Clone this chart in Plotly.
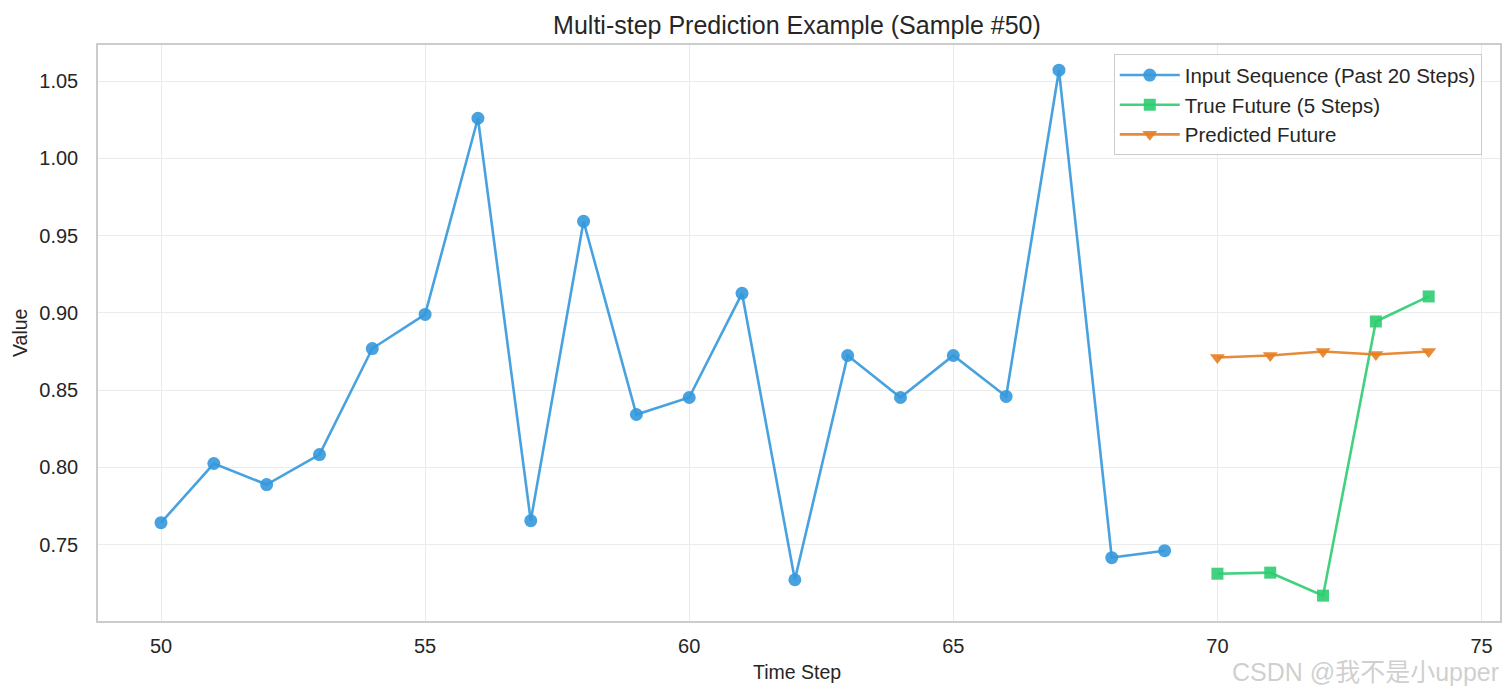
import plotly.graph_objects as go

input_x = list(range(50, 70))
input_y = [0.7642, 0.8025, 0.7889, 0.8083, 0.8769, 0.8990, 1.0259, 0.7655, 0.9592, 0.8342,
           0.8452, 0.9126, 0.7273, 0.8724, 0.8452, 0.8724, 0.8459, 1.0570, 0.7416, 0.7461]
future_x = list(range(70, 75))
true_y = [0.7312, 0.7319, 0.7170, 0.8944, 0.9106]
pred_y = [0.8711, 0.8724, 0.8750, 0.8730, 0.8750]

x_ticks = [50, 55, 60, 65, 70, 75]
y_ticks = [0.75, 0.80, 0.85, 0.90, 0.95, 1.00, 1.05]

font_family = "Liberation Sans, Arial, sans-serif"
text_color = "#262626"

fig = go.Figure()
fig.add_trace(go.Scatter(x=input_x, y=input_y, mode="lines+markers",
                         name="Input Sequence (Past 20 Steps)",
                         line=dict(color="rgba(52,152,219,0.9)", width=2.6),
                         marker=dict(symbol="circle", size=13, color="rgba(52,152,219,0.9)")))
fig.add_trace(go.Scatter(x=future_x, y=true_y, mode="lines+markers",
                         name="True Future (5 Steps)",
                         line=dict(color="rgba(46,204,113,0.9)", width=2.6),
                         marker=dict(symbol="square", size=12, color="rgba(46,204,113,0.9)")))
fig.add_trace(go.Scatter(x=future_x, y=pred_y, mode="lines+markers",
                         name="Predicted Future",
                         line=dict(color="rgba(230,126,34,0.9)", width=2.6),
                         marker=dict(symbol="triangle-down", size=13, color="rgba(230,126,34,0.9)")))

fig.update_layout(
    width=1508, height=698,
    paper_bgcolor="white", plot_bgcolor="white",
    margin=dict(l=98, r=8, t=44.5, b=76.5, autoexpand=False),
    font=dict(family=font_family, color=text_color, size=20),
    title=dict(text="Multi-step Prediction Example (Sample #50)", x=0.5285, xanchor="center",
               y=0.9642, yanchor="middle", font=dict(size=25, color=text_color)),
    legend=dict(x=0.987, xanchor="right", y=0.984, yanchor="top",
                bgcolor="rgba(255,255,255,0.8)", bordercolor="#cccccc", borderwidth=1,
                font=dict(size=20.5, color=text_color), itemwidth=60, tracegroupgap=0),
    showlegend=True,
)
fig.update_xaxes(range=[48.807, 75.35], tickvals=x_ticks, ticktext=[str(v) for v in x_ticks],
                 showgrid=True, gridcolor="#ebebeb", gridwidth=1.2, zeroline=False,
                 showline=True, linecolor="#cccccc", linewidth=1.5, mirror=True,
                 ticks="", automargin=False, ticklabelstandoff=6,
                 tickfont=dict(size=20, color=text_color))
fig.update_yaxes(range=[0.7006, 1.0733], tickvals=y_ticks, ticktext=[f"{v:.2f}" for v in y_ticks],
                 showgrid=True, gridcolor="#ebebeb", gridwidth=1.2, zeroline=False,
                 showline=True, linecolor="#cccccc", linewidth=1.5, mirror=True,
                 ticks="", automargin=False, ticklabelstandoff=14,
                 tickfont=dict(size=20, color=text_color))

# axis titles
fig.add_annotation(text="Time Step", xref="paper", yref="paper", x=0.4986, xanchor="center",
                   y=(621.5 - 673) / 577, yanchor="middle", showarrow=False,
                   font=dict(size=19.5, color=text_color))
fig.add_annotation(text="Value", xref="paper", yref="paper", x=(20 - 98) / 1402, xanchor="center",
                   y=0.5, yanchor="middle", showarrow=False, textangle=-90,
                   font=dict(size=19.5, color=text_color))

# watermark
fig.add_annotation(text="CSDN @我不是小upper", xref="paper", yref="paper",
                   x=1.0 + 1 / 1402, xanchor="right", y=(621.5 - 673) / 577, yanchor="middle",
                   showarrow=False,
                   font=dict(size=25, color="rgba(160,160,160,0.5)",
                             family="Liberation Sans, Noto Sans CJK SC, sans-serif"))

fig.write_html("out.html", post_script="document.body.style.margin='0';",
               config={"displayModeBar": False})
